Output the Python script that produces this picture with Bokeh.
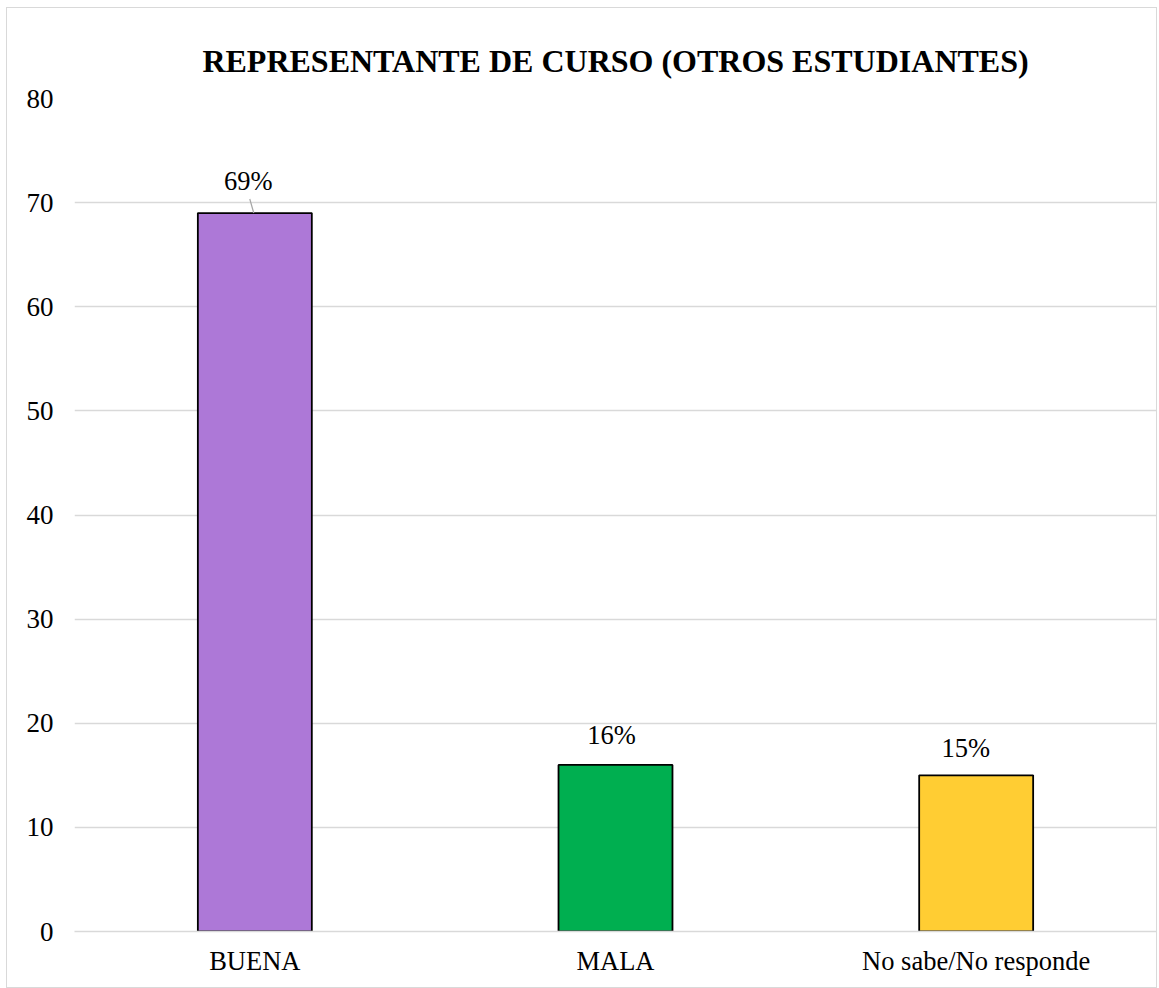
from bokeh.plotting import figure
from bokeh.models import ColumnDataSource, Range1d, FactorRange, FixedTicker, LabelSet, Title
from bokeh.core.properties import value
from bokeh.embed import file_html
from bokeh.resources import INLINE

title_text = "REPRESENTANTE DE CURSO (OTROS ESTUDIANTES)"
categories = ["BUENA", "MALA", "No sabe/No responde"]
values = [69, 16, 15]
labels = ["69%", "16%", "15%"]
colors = ["#AD78D7", "#00AF50", "#FFCD33"]
y_ticks = [0, 10, 20, 30, 40, 50, 60, 70, 80]

# label placement tweaks (screen px)
label_dx = [-6.5, -4, -10.5]
label_dy = [32, 29.5, 27]

FONT = "Liberation Serif"

src = ColumnDataSource(dict(cat=categories, val=values, lab=labels, col=colors,
                            dx=label_dx, dy=label_dy))

p = figure(x_range=FactorRange(*categories, range_padding=0), y_range=Range1d(0, 80),
           width=1151, height=981, output_backend="svg", toolbar_location=None,
           min_border_left=67, min_border_right=2, min_border_top=90, min_border_bottom=58)

p.title = Title(text=title_text, align="center", vertical_align="top",
                text_font=FONT, text_font_size="32px", text_font_style="bold",
                text_color="#000000", offset=-20, standoff=36)

p.vbar(x="cat", top="val", width=0.316, source=src, fill_color="col",
       line_color="#000000", line_width=1.8)

p.add_layout(LabelSet(x="cat", y="val", text="lab", source=src,
                      x_offset="dx", y_offset="dy",
                      text_align="center", text_baseline="middle",
                      text_font=value(FONT), text_font_size="26.5px", text_color="#000000"))

# leader line for first label
p.segment(x0=[(categories[0], -0.014)], y0=[values[0] + 1.35], x1=[(categories[0], -0.003)],
          y1=[values[0]], line_color="#A6A6A6", line_width=1.2)

p.yaxis.ticker = FixedTicker(ticks=y_ticks)
p.yaxis.axis_line_color = None
p.yaxis.major_tick_line_color = None
p.yaxis.minor_tick_line_color = None
p.yaxis.major_label_text_font = FONT
p.yaxis.major_label_text_font_size = "27px"
p.yaxis.major_label_text_color = "#000000"
p.yaxis.major_label_standoff = 15

p.xaxis.axis_line_color = "#D9D9D9"
p.xaxis.axis_line_width = 1.5
p.xaxis.major_tick_line_color = None
p.xaxis.minor_tick_line_color = None
p.xaxis.major_label_text_font = FONT
p.xaxis.major_label_text_font_size = "26.5px"
p.xaxis.major_label_text_color = "#000000"
p.xaxis.major_label_standoff = 8

p.xgrid.grid_line_color = None
p.ygrid.grid_line_color = "#D9D9D9"
p.ygrid.grid_line_width = 1.5
p.outline_line_color = None
p.styles = {"border": "1px solid #D9D9D9", "margin-left": "6px", "margin-top": "7px"}

open("out.html", "w").write(file_html(p, INLINE))
